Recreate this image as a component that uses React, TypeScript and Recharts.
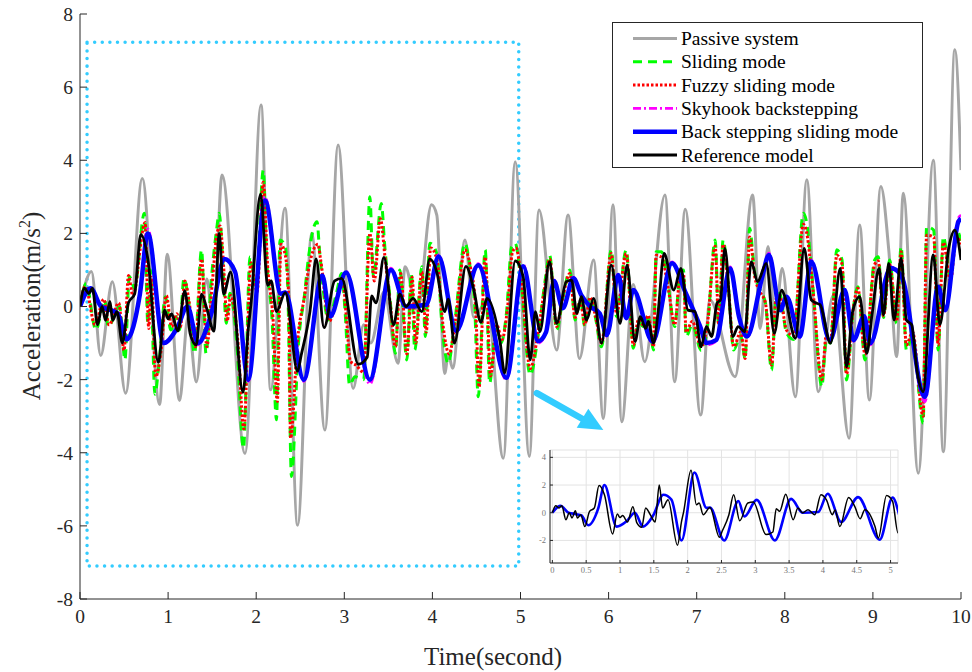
import React from 'react';
import {
  LineChart,
  Line,
  XAxis,
  YAxis,
  CartesianGrid,
  Legend,
  ReferenceArea,
  ReferenceLine,
  ReferenceDot
} from 'recharts';

// tick values
const timeTicks = [0, 1, 2, 3, 4, 5, 6, 7, 8, 9, 10];
const accelTicks = [-8, -6, -4, -2, 0, 2, 4, 6, 8];
const insetTimeTicks = [0, 0.5, 1, 1.5, 2, 2.5, 3, 3.5, 4, 4.5, 5];
const insetAccelTicks = [-2, 0, 2, 4];

// [time (s), acceleration (m/s^2)]
const passiveSystem = [
  [0, 0], [0.13, 0.96], [0.235, -1.34], [0.367, 0.68], [0.518, -2.37], [0.707, 3.5], [0.904, -2.68], [0.99, 1.43],
  [1.13, -2.57], [1.225, -0.3], [1.32, -2.06], [1.44, 0.75], [1.515, -0.55], [1.612, 3.6], [1.873, -4.02], [2.055, 5.51],
  [2.164, -2.28], [2.327, 2.69], [2.47, -5.98], [2.63, 2.0], [2.78, -3.38], [2.93, 4.42], [3.1, -2.24], [3.22, -0.5],
  [3.3, -1.0], [3.45, 0.4], [3.61, -1.55], [3.69, 1.09], [3.83, -0.1], [3.99, 2.78], [4.05, 2.5], [4.14, -1.83],
  [4.18, -1.3], [4.23, -1.69], [4.37, 1.82], [4.47, -0.3], [4.62, 0.15], [4.805, -4.15], [4.94, 3.96], [5.1, -4.1],
  [5.21, 2.64], [5.41, -1.19], [5.54, 2.5], [5.67, -1.42], [5.83, 1.27], [5.94, -3.06], [6.05, 2.78], [6.15, -3.15],
  [6.28, 0.6], [6.41, -1.51], [6.64, 3.05], [6.75, -2.06], [6.87, 2.66], [7.045, -2.97], [7.15, 0.18], [7.435, -1.92],
  [7.635, 3.05], [7.72, -0.6], [7.81, 1.64], [7.89, -0.4], [7.97, 1.04], [8.12, -2.47], [8.25, 3.47], [8.38, -2.33],
  [8.55, 0.3], [8.73, -3.6], [8.85, 2.23], [8.96, -2.56], [9.09, 3.28], [9.18, 1.55], [9.27, -1.37], [9.345, 3.1],
  [9.515, -4.56], [9.685, 4.0], [9.8, -3.97], [9.93, 7.02], [10, 3.73]
];

const slidingMode = [
  [0, 0], [0.07, 0.63], [0.18, -0.64], [0.28, 0.18], [0.32, -0.55], [0.45, 0], [0.51, -1.46], [0.56, 0.82], [0.62, 0.5],
  [0.73, 2.55], [0.77, -0.46], [0.8, 1.0], [0.85, -2.4], [0.9, -1.46], [0.97, 0.27], [1.03, -0.64], [1.09, -0.28],
  [1.13, -0.64], [1.18, 0.77], [1.23, 0.2], [1.3, -1.28], [1.38, 1.55], [1.43, -1.28], [1.49, 0.72], [1.55, 2.09],
  [1.58, 2.55], [1.62, 1.27], [1.66, -0.46], [1.7, 0.36], [1.78, -1.0], [1.855, -3.88], [1.93, 1.36], [2.0, 0.5],
  [2.08, 3.73], [2.12, 1.27], [2.18, -0.37], [2.23, -3.1], [2.27, 1.82], [2.33, 1.64], [2.36, 0.36], [2.4, -4.65],
  [2.48, -1.0], [2.55, 0.36], [2.59, 1.27], [2.69, 2.32], [2.72, 1.5], [2.82, -0.37], [2.91, 0.36], [2.97, 0.9],
  [3.01, -0.18], [3.06, -2.15], [3.12, -1.92], [3.22, -2.0], [3.29, 3.0], [3.33, 0.82], [3.42, 2.82], [3.46, 1.63],
  [3.52, 0.2], [3.58, -1.28], [3.63, 1.0], [3.71, -1.46], [3.76, 0.9], [3.8, -1.19], [3.88, 1.09], [3.92, -0.82],
  [3.97, 1.73], [4.05, 1.45], [4.11, -0.55], [4.18, -1.56], [4.25, -0.5], [4.37, 1.73], [4.42, 1.2], [4.48, 0],
  [4.52, -2.47], [4.6, 1.55], [4.65, -2.1], [4.72, -0.5], [4.78, -1.0], [4.84, -0.19], [4.9, 1.64], [4.94, 1.73],
  [5.0, 0.8], [5.11, -1.87], [5.2, -0.8], [5.28, 0.72], [5.33, 1.41], [5.41, -0.64], [5.48, 0.2], [5.56, 1.0],
  [5.62, -0.37], [5.68, 0.18], [5.73, -0.55], [5.79, 0.27], [5.85, -0.3], [5.92, -1.1], [6.03, 1.55], [6.09, -0.28],
  [6.2, 1.55], [6.28, -1.14], [6.34, -0.4], [6.39, -0.55], [6.45, -0.3], [6.51, -1.19], [6.54, 1.5], [6.6, 1.5],
  [6.68, 0.5], [6.75, -0.55], [6.81, 0.9], [6.85, 1.0], [6.88, -0.82], [6.95, -0.5], [7.05, -1.2], [7.12, -0.6],
  [7.21, 1.82], [7.25, -0.55], [7.3, 1.82], [7.36, 0.54], [7.42, -1.19], [7.5, -0.8], [7.55, -1.42], [7.6, 2.14],
  [7.66, 0.9], [7.72, 0.45], [7.78, 0.1], [7.85, -1.74], [7.9, 0.2], [7.94, 0.36], [8.02, -0.73], [8.1, -0.9],
  [8.21, 2.55], [8.25, 2.27], [8.32, 0.5], [8.42, -2.19], [8.47, -0.92], [8.52, -1.0], [8.59, 1.55], [8.65, 1.27],
  [8.7, -2.01], [8.78, 0], [8.83, 0.54], [8.91, -1.46], [9.02, 1.27], [9.06, 1.36], [9.12, -0.3], [9.19, 1.27],
  [9.27, -0.46], [9.32, 1.64], [9.38, -1.19], [9.45, -0.8], [9.57, -3.19], [9.61, 2.18], [9.69, 2.09], [9.74, -1.19],
  [9.8, 1.91], [9.88, 0.8], [9.95, 2.09], [10, 1.8]
];

const fuzzySlidingMode = [
  [0, 0], [0.06, 0.55], [0.17, -0.5], [0.27, 0.2], [0.33, -0.5], [0.44, 0.1], [0.5, -1.2], [0.55, 0.85], [0.6, 0.3],
  [0.74, 2.3], [0.78, -0.6], [0.81, 0.8], [0.86, -1.92], [0.92, -1.2], [0.98, 0.3], [1.04, -0.55], [1.1, -0.2],
  [1.14, -0.55], [1.19, 0.7], [1.24, 0.1], [1.31, -1.1], [1.38, 1.3], [1.44, -1.1], [1.5, 0.6], [1.56, 2.05],
  [1.59, 2.2], [1.63, 1.1], [1.67, -0.4], [1.71, 0.3], [1.79, -0.9], [1.86, -3.35], [1.94, 1.2], [2.01, 0.4],
  [2.08, 3.4], [2.13, 1.1], [2.19, -0.3], [2.24, -2.6], [2.28, 1.7], [2.33, 1.4], [2.37, 0.2], [2.39, -3.6],
  [2.47, -0.9], [2.55, 0.3], [2.6, 1.1], [2.7, 1.7], [2.73, 1.3], [2.83, -0.4], [2.92, 0.3], [2.98, 0.8],
  [3.02, -0.2], [3.07, -1.5], [3.13, -1.6], [3.22, -1.8], [3.29, 2.0], [3.34, 0.7], [3.41, 2.4], [3.46, 1.4],
  [3.52, 0.1], [3.58, -1.1], [3.64, 0.9], [3.71, -1.3], [3.77, 0.8], [3.81, -1.0], [3.88, 0.95], [3.93, -0.7],
  [3.98, 1.6], [4.05, 1.3], [4.12, -0.5], [4.19, -1.3], [4.26, -0.4], [4.37, 1.55], [4.43, 1.1], [4.49, 0],
  [4.53, -2.2], [4.6, 1.35], [4.66, -1.9], [4.73, -0.5], [4.79, -0.9], [4.85, -0.1], [4.91, 1.5], [4.95, 1.6],
  [5.01, 0.7], [5.11, -1.7], [5.2, -0.7], [5.28, 0.6], [5.33, 1.3], [5.41, -0.55], [5.48, 0.25], [5.56, 0.9],
  [5.62, -0.3], [5.68, 0.15], [5.73, -0.5], [5.79, 0.25], [5.85, -0.25], [5.92, -1.0], [6.03, 1.45], [6.09, -0.2],
  [6.2, 1.45], [6.28, -1.05], [6.34, -0.35], [6.39, -0.5], [6.45, -0.25], [6.51, -1.1], [6.54, 1.4], [6.6, 1.35],
  [6.68, 0.45], [6.75, -0.5], [6.81, 0.8], [6.85, 0.9], [6.88, -0.7], [6.95, -0.4], [7.05, -1.1], [7.12, -0.5],
  [7.21, 1.65], [7.25, -0.5], [7.3, 1.7], [7.36, 0.5], [7.42, -1.1], [7.5, -0.7], [7.55, -1.42], [7.6, 1.9],
  [7.66, 0.8], [7.72, 0.4], [7.78, 0.1], [7.85, -1.6], [7.9, 0.2], [7.94, 0.3], [8.02, -0.65], [8.1, -0.8],
  [8.21, 2.25], [8.25, 2.0], [8.32, 0.45], [8.42, -2.0], [8.47, -0.8], [8.52, -0.9], [8.59, 1.4], [8.65, 1.15],
  [8.7, -1.85], [8.78, 0], [8.83, 0.5], [8.91, -1.3], [9.02, 1.15], [9.06, 1.25], [9.12, -0.25], [9.19, 1.15],
  [9.27, -0.4], [9.32, 1.5], [9.38, -1.05], [9.45, -0.7], [9.57, -3.0], [9.61, 1.95], [9.69, 1.9], [9.74, -1.05],
  [9.8, 1.75], [9.88, 0.7], [9.95, 1.9], [10, 1.7]
];

const skyhookBackstepping = [
  [0, 0], [0.12, 0.5], [0.24, 0], [0.35, -0.1], [0.43, -0.2], [0.53, -0.92], [0.68, 0.34], [0.77, 2.12], [0.95, -1.02],
  [1.1, -0.6], [1.22, 0], [1.34, -1.05], [1.49, -0.2], [1.64, 1.32], [1.76, 0.97], [1.91, -2.05], [2.1, 3.0],
  [2.28, 0.35], [2.33, 0.4], [2.54, -2.05], [2.75, 0.88], [2.84, -0.27], [3.02, 0.96], [3.29, -2.12], [3.53, 1.05],
  [3.7, 0], [3.93, 0.05], [4.07, 1.42], [4.27, -0.7], [4.52, 1.17], [4.84, -2.0], [5.03, 1.15], [5.2, -1.0],
  [5.29, -0.72], [5.38, 0.72], [5.48, -0.05], [5.6, 0.8], [5.69, 0.31], [5.79, 0], [5.9, -0.2], [5.98, -0.82],
  [6.11, 0.9], [6.2, -0.33], [6.28, 0.47], [6.5, -1.0], [6.72, 1.22], [6.87, 0.42], [7.04, -0.57], [7.11, -1.05],
  [7.22, -0.95], [7.38, 1.08], [7.48, -0.28], [7.57, -0.85], [7.74, 0.8], [7.82, 1.46], [7.95, -0.1], [8.02, 0.28],
  [8.17, -0.85], [8.3, 1.27], [8.51, -0.95], [8.68, 0.47], [8.78, -0.95], [8.9, -0.28], [8.97, -1.05], [9.2, 1.08],
  [9.32, 0.88], [9.59, -2.6], [9.74, 0.56], [9.82, -0.1], [9.97, 2.42], [10, 2.5]
];

const backSteppingSlidingMode = [
  [0, 0], [0.12, 0.5], [0.24, 0], [0.35, -0.1], [0.43, -0.2], [0.53, -0.9], [0.68, 0.34], [0.77, 2.0], [0.95, -1.0],
  [1.1, -0.6], [1.22, 0], [1.34, -1.0], [1.49, -0.2], [1.64, 1.3], [1.76, 0.95], [1.91, -2.0], [2.1, 2.9],
  [2.28, 0.35], [2.33, 0.38], [2.54, -2.0], [2.75, 0.85], [2.84, -0.27], [3.02, 0.93], [3.29, -2.0], [3.53, 1.0],
  [3.7, 0], [3.93, 0.05], [4.07, 1.37], [4.27, -0.67], [4.52, 1.13], [4.84, -1.95], [5.03, 1.1], [5.2, -0.95],
  [5.29, -0.7], [5.38, 0.7], [5.48, -0.05], [5.6, 0.77], [5.69, 0.31], [5.79, 0], [5.9, -0.19], [5.98, -0.78],
  [6.11, 0.86], [6.2, -0.32], [6.28, 0.45], [6.5, -0.96], [6.72, 1.18], [6.87, 0.4], [7.04, -0.55], [7.11, -1.0],
  [7.22, -0.92], [7.38, 1.04], [7.48, -0.28], [7.57, -0.82], [7.74, 0.77], [7.82, 1.41], [7.95, -0.1], [8.02, 0.27],
  [8.17, -0.82], [8.3, 1.23], [8.51, -0.92], [8.68, 0.45], [8.78, -0.92], [8.9, -0.27], [8.97, -1.0], [9.2, 1.05],
  [9.32, 0.85], [9.59, -2.47], [9.74, 0.54], [9.82, -0.1], [9.97, 2.32], [10, 2.4]
];

const referenceModel = [
  [0, 0], [0.05, 0.5], [0.1, 0.35], [0.14, 0.5], [0.2, -0.5], [0.25, 0], [0.29, -0.38], [0.34, 0.14], [0.37, -0.38],
  [0.42, -0.14], [0.48, -1.0], [0.55, 0.1], [0.62, 0.34], [0.69, 1.97], [0.77, 1.3], [0.89, -1.53], [0.96, -0.1],
  [1.0, -0.34], [1.04, -0.2], [1.11, -0.67], [1.19, 0.43], [1.25, -0.74], [1.32, -1.05], [1.38, 0.34], [1.44, -0.07],
  [1.52, -0.67], [1.58, 2.0], [1.63, 0.34], [1.71, 0.94], [1.85, -2.35], [1.91, -0.62], [1.94, 0.05], [2.05, 3.07],
  [2.13, 0.58], [2.17, 0.7], [2.23, -0.14], [2.33, 0.38], [2.47, -1.77], [2.51, -1.34], [2.61, -0.14], [2.68, 1.3],
  [2.77, -0.58], [2.89, 0.7], [2.97, 0.77], [3.16, -1.58], [3.26, -1.39], [3.31, 0.29], [3.36, 0.1], [3.45, 1.34],
  [3.56, -0.5], [3.63, 0.34], [3.7, 0], [3.78, 0.22], [3.88, -0.14], [3.97, 1.3], [4.05, 0.94], [4.14, -0.14],
  [4.18, 0.2], [4.25, -1.0], [4.38, 1.1], [4.47, 0.46], [4.55, -0.43], [4.62, 0.22], [4.77, -1.0], [4.82, -1.82],
  [4.94, 1.25], [5.03, 0.82], [5.11, -1.46], [5.17, -0.14], [5.22, -0.69], [5.33, 1.23], [5.41, -0.46], [5.52, 0.68],
  [5.58, 0.72], [5.64, -0.19], [5.69, 0.27], [5.75, -0.37], [5.83, 0.22], [5.92, -1.0], [6.03, 1.13], [6.13, -0.46],
  [6.21, 1.13], [6.3, -0.96], [6.36, -0.28], [6.42, -0.6], [6.45, -0.41], [6.51, -1.0], [6.56, -0.19], [6.63, 1.45],
  [6.74, 0.45], [6.82, 1.04], [6.9, -0.1], [6.98, -0.14], [7.05, -1.1], [7.11, -0.55], [7.17, -0.82], [7.23, 0.09],
  [7.27, 0.18], [7.32, 1.59], [7.41, -0.82], [7.47, -0.55], [7.545, -0.69], [7.62, 1.23], [7.69, 0.68], [7.79, 1.18],
  [7.88, -0.73], [7.965, 0.45], [8.0, 0.27], [8.12, -0.87], [8.22, 1.59], [8.3, 0.18], [8.35, 0.1], [8.4, 0.05],
  [8.52, -1.0], [8.63, 1.04], [8.7, -1.65], [8.77, -0.14], [8.85, 0.27], [8.93, -1.28], [8.99, -0.23], [9.07, 1.04],
  [9.12, -0.23], [9.18, 1.18], [9.24, -0.37], [9.32, 1.32], [9.38, -0.37], [9.44, -0.5], [9.5, -1.74], [9.57, -2.33],
  [9.685, 1.41], [9.76, -0.5], [9.86, 1.59], [9.93, 2.09], [10, 1.27]
];

// zoom window and arrow annotation (data units)
const zoomBox = { t1: 0.08, t2: 4.98, a1: -7.1, a2: 7.23 };
const arrowTail = { t: 5.185, a: -2.37 };
const arrowNeck = { t: 5.7, a: -3.07 };
const arrowTip = { t: 5.94, a: -3.38 };

const toPoints = (pairs: number[][]) => pairs.map(([t, a]) => ({ t, a }));

const FONT = '"Liberation Serif", "Times New Roman", serif';
const AXIS = '#262626';

const series = [
  { name: 'Passive system', pairs: passiveSystem, color: '#a6a6a6', width: 3 },
  { name: 'Sliding mode', pairs: slidingMode, color: '#00ff00', width: 3, dash: '9 6' },
  { name: 'Fuzzy sliding mode', pairs: fuzzySlidingMode, color: '#ff0000', width: 3, dash: '2.5 2' },
  { name: 'Skyhook backstepping', pairs: skyhookBackstepping, color: '#ff00ff', width: 2.8, dash: '8 3 2 3' },
  { name: 'Back stepping sliding mode', pairs: backSteppingSlidingMode, color: '#0000ff', width: 4.5 },
  { name: 'Reference model', pairs: referenceModel, color: '#000000', width: 2.8 }
];

const renderLegend = () => (
  <svg width={311} height={146} style={{ display: 'block' }}>
    <rect x={0.5} y={0.5} width={310} height={145} fill="#fff" stroke={AXIS} strokeWidth={1} />
    {series.map((s, i) => {
      const cy = 16.5 + i * 23.3;
      return (
        <g key={s.name}>
          <line x1={21} x2={65} y1={cy} y2={cy} stroke={s.color} strokeWidth={s.width} strokeDasharray={s.dash} />
          <text x={69} y={cy + 6.5} fontFamily={FONT} fontSize={19.5} fill="#000">{s.name}</text>
        </g>
      );
    })}
  </svg>
);

const ArrowHead = (props: any) => {
  const { cx, cy } = props;
  if (cx == null || cy == null) return null;
  return <polygon points={`${cx},${cy} ${cx - 26.6},${cy - 2.4} ${cx - 15},${cy - 21.4}`} fill="#33ccff" />;
};

const App: React.FC = () => {
  const insetRef = React.useMemo(() => toPoints(referenceModel.filter((p) => p[0] <= 5.2)), []);
  const insetBssm = React.useMemo(() => toPoints(backSteppingSlidingMode.filter((p) => p[0] <= 5.3)), []);

  return (
    <div style={{ position: 'absolute', left: 0, top: 0, width: 972, height: 672, background: '#fff' }}>
      <LineChart width={972} height={672} margin={{ top: 14, right: 11, left: 0, bottom: 0 }}>
        <XAxis
          dataKey="t"
          type="number"
          domain={[0, 10]}
          ticks={timeTicks}
          allowDataOverflow
          height={73}
          stroke={AXIS}
          tickSize={-7}
          tickMargin={17}
          tick={{ fill: AXIS, fontSize: 19.5, fontFamily: FONT }}
          label={{
            content: () => (
              <text x={493} y={665} textAnchor="middle" fontFamily={FONT} fontSize={25} fill={AXIS}>
                Time(second)
              </text>
            )
          }}
        />
        <XAxis xAxisId="top" orientation="top" dataKey="t" type="number" domain={[0, 10]} ticks={timeTicks}
          allowDataOverflow height={0} stroke={AXIS} tickSize={-7} tick={false} />
        <YAxis
          type="number"
          domain={[-8, 8]}
          ticks={accelTicks}
          allowDataOverflow
          width={80}
          stroke={AXIS}
          tickSize={-7}
          tickMargin={14}
          tick={{ fill: AXIS, fontSize: 19.5, fontFamily: FONT }}
          label={{
            content: () => (
              <text x={40} y={306} transform="rotate(-90 40 306)" textAnchor="middle" fontFamily={FONT} fontSize={25} fill={AXIS}>
                Acceleration(m/s<tspan dy={-10} fontSize={16}>2</tspan><tspan dy={10}>)</tspan>
              </text>
            )
          }}
        />
        <YAxis yAxisId="right" orientation="right" type="number" domain={[-8, 8]} ticks={accelTicks}
          allowDataOverflow width={0} stroke={AXIS} tickSize={-7} tick={false} />

        {series.map((s) => (
          <Line
            key={s.name}
            name={s.name}
            data={toPoints(s.pairs)}
            dataKey="a"
            type="monotone"
            stroke={s.color}
            strokeWidth={s.width}
            strokeDasharray={s.dash}
            dot={false}
            activeDot={false}
            isAnimationActive={false}
          />
        ))}

        <ReferenceArea
          x1={zoomBox.t1}
          x2={zoomBox.t2}
          y1={zoomBox.a1}
          y2={zoomBox.a2}
          fill="none"
          fillOpacity={0}
          stroke="#33ccff"
          strokeWidth={3.5}
          strokeDasharray="0.01 7.6"
          strokeLinecap="round"
          ifOverflow="visible"
        />
        <ReferenceLine
          segment={[{ x: arrowTail.t, y: arrowTail.a }, { x: arrowNeck.t, y: arrowNeck.a }]}
          stroke="#33ccff"
          strokeWidth={6.5}
          strokeLinecap="round"
          ifOverflow="visible"
        />
        <ReferenceDot x={arrowTip.t} y={arrowTip.a} r={1} shape={ArrowHead} ifOverflow="visible" />

        <Legend
          layout="horizontal"
          verticalAlign="middle"
          align="center"
          content={renderLegend}
          wrapperStyle={{ position: 'absolute', left: 612, top: 22, width: 311, height: 146 }}
        />
      </LineChart>

      <div style={{ position: 'absolute', left: 530, top: 440 }}>
        <LineChart width={380} height={145} margin={{ top: 10, right: 12, left: 0, bottom: 0 }}>
          <CartesianGrid stroke="#e3e3e3" strokeWidth={1} fill="#fff" fillOpacity={1} />
          <XAxis
            dataKey="t"
            type="number"
            domain={[-0.035, 5.11]}
            ticks={insetTimeTicks}
            allowDataOverflow
            height={22}
            stroke={AXIS}
            tickSize={-3}
            tickMargin={7}
            tick={{ fill: '#777', fontSize: 8.5, fontFamily: FONT }}
          />
          <XAxis xAxisId="top" orientation="top" dataKey="t" type="number" domain={[-0.035, 5.11]} ticks={insetTimeTicks}
            allowDataOverflow height={0} stroke={AXIS} tickSize={-3} tick={false} />
          <YAxis
            type="number"
            domain={[-3.63, 4.53]}
            ticks={insetAccelTicks}
            allowDataOverflow
            width={20}
            stroke={AXIS}
            tickSize={-3}
            tickMargin={7}
            tick={{ fill: '#777', fontSize: 8.5, fontFamily: FONT }}
          />
          <YAxis yAxisId="right" orientation="right" type="number" domain={[-3.63, 4.53]} ticks={insetAccelTicks}
            allowDataOverflow width={0} stroke={AXIS} tickSize={-3} tick={false} />
          <Line data={insetBssm} dataKey="a" type="monotone" stroke="#0000ff" strokeWidth={2.6}
            dot={false} activeDot={false} isAnimationActive={false} />
          <Line data={insetRef} dataKey="a" type="monotone" stroke="#000" strokeWidth={1.5}
            dot={false} activeDot={false} isAnimationActive={false} />
        </LineChart>
      </div>
    </div>
  );
};

export default App;
